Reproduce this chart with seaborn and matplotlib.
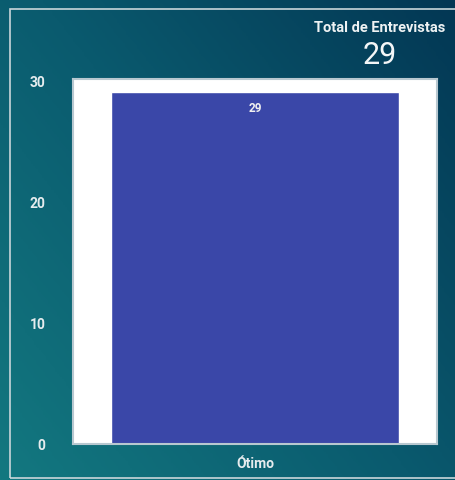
import numpy as np
import pandas as pd
import matplotlib
matplotlib.use("Agg")
import matplotlib.pyplot as plt
import seaborn as sns
from matplotlib.colors import LinearSegmentedColormap
from matplotlib.patches import Rectangle

# data
categorias = ["Ótimo"]
valores = [29]
total_entrevistas = 29
yticks = [0, 10, 20, 30]

sns.set_style("white")
plt.rcParams['font.family'] = ['Roboto', 'DejaVu Sans']

fig = plt.figure(figsize=(4.56, 4.81), dpi=100)

# gradient background (teal bottom-left -> navy top-right)
bg = fig.add_axes([0, 0, 1, 1], zorder=0)
xx, yy = np.meshgrid(np.linspace(0, 1, 200), np.linspace(0, 1, 200))
grad = (xx * 0.55 + (1 - yy) * 0.45)
cmap = LinearSegmentedColormap.from_list("bg", ["#137880", "#0a5a6e", "#033754"])
bg.imshow(grad, cmap=cmap, aspect="auto", extent=[0, 1, 0, 1], origin="upper")
bg.set_xlim(0, 1); bg.set_ylim(0, 1)
bg.axis("off")
bg.add_patch(Rectangle((10 / 456, 2 / 481), 450 / 456, 469 / 481, fill=False,
                       edgecolor="#c9d6da", lw=1.2, transform=bg.transAxes))

# chart area
ax = fig.add_axes([73 / 456, 1 - 445 / 481, 364 / 456, 365 / 481], zorder=1)
df = pd.DataFrame({"cat": categorias, "val": valores})
sns.barplot(data=df, x="cat", y="val", color="#3a47a8", saturation=1,
            width=0.79, ax=ax)
ax.set_facecolor("white")
ax.set_xlim(-0.5, 0.5)
ax.set_ylim(0, 30.1)
ax.set_yticks(yticks)
ax.set_xlabel(""); ax.set_ylabel("")
for s in ax.spines.values():
    s.set_color("#b8c8d0"); s.set_linewidth(1.5)
ax.tick_params(axis="both", colors="#e6ecee", labelsize=10, length=0, pad=20)
ax.tick_params(axis="x", pad=9)
for lbl in ax.get_yticklabels() + ax.get_xticklabels():
    lbl.set_fontweight("bold")
    lbl.set_color("#e6ecee")

for p, v in zip(ax.patches, valores):
    ax.text(p.get_x() + p.get_width() / 2, v - 0.75, f"{v}", ha="center", va="top",
            color="#f0f0f0", fontsize=8.5, fontweight="bold")

fig.text(380 / 456, 1 - 28 / 481, "Total de Entrevistas", ha="center", va="center",
         color="#eef2f3", fontsize=10.5, fontweight="bold")
fig.text(380 / 456, 1 - 56 / 481, f"{total_entrevistas}", ha="center", va="center",
         color="#f4f6f7", fontsize=22)

fig.savefig("out.png", dpi=100)
